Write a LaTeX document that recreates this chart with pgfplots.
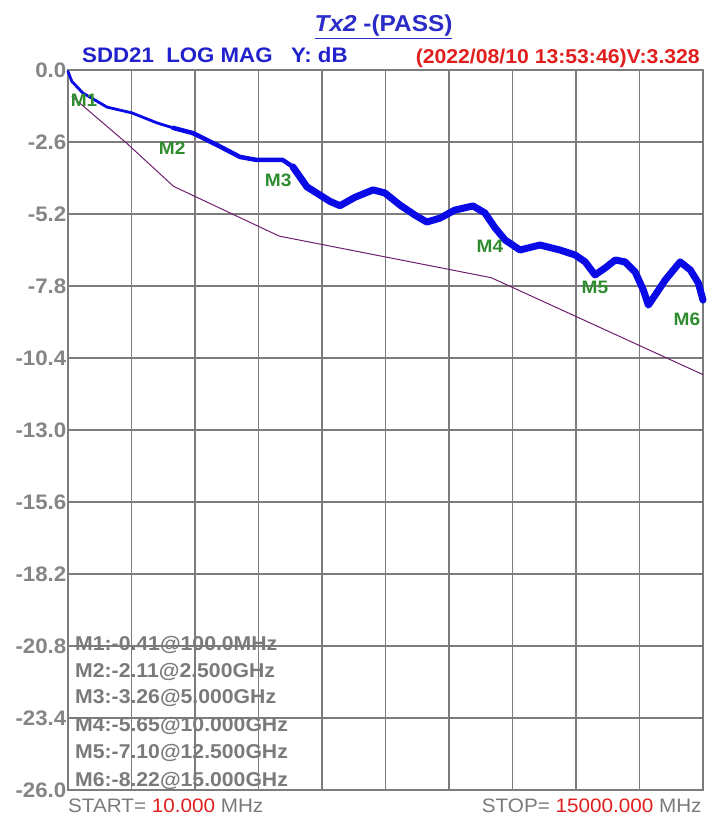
\documentclass[border=0pt]{standalone}
\usepackage{pgfplots}
\pgfplotsset{compat=1.18}
\usepackage{fontspec}
\setmainfont[FakeStretch=1.06]{Liberation Sans}
\definecolor{gridgray}{HTML}{7C7C7C}
\definecolor{tickgray}{HTML}{858585}
\definecolor{listgray}{HTML}{7A7A7A}
\definecolor{titleblue}{HTML}{2B2BC8}
\definecolor{hdrblue}{HTML}{2222CC}
\definecolor{hdrred}{HTML}{E01E1E}
\definecolor{traceblue}{HTML}{0A0AE6}
\definecolor{limpurple}{HTML}{6E1E6E}
\definecolor{mgreen}{HTML}{2E8B2E}
\begin{document}
\begin{tikzpicture}
\useasboundingbox (-68pt,-26pt) rectangle (650pt,790pt);
\begin{axis}[
  scale only axis, width=635pt, height=720pt,
  at={(0pt,0pt)}, anchor=south west,
  xmin=0.01, xmax=15, ymin=-26, ymax=0,
  xtick={0.01,1.509,3.008,4.507,6.006,7.505,9.004,10.503,12.002,13.501,15},
  xticklabels={},
  ytick={0,-2.6,-5.2,-7.8,-10.4,-13,-15.6,-18.2,-20.8,-23.4,-26},
  yticklabels={0.0,-2.6,-5.2,-7.8,-10.4,-13.0,-15.6,-18.2,-20.8,-23.4,-26.0},
  grid=major,
  major grid style={gridgray, line width=1.6pt},
  axis line style={gridgray, line width=1.6pt},
  major tick length=0pt,
  yticklabel style={font=\fontsize{21}{21}\selectfont\bfseries, text=tickgray, inner sep=0pt, xshift=-1.5pt},
  clip=false,
]
% limit line
\addplot[limpurple, line width=1pt] coordinates {
 (0.1,-0.95) (1.4,-2.65) (2.5,-4.2) (4.47,-5.62) (5.0,-6.0) (10.0,-7.5) (15.0,-11.0)
};
% measured trace, segment 1
\addplot[traceblue, line width=2.8pt, line join=round, line cap=round] coordinates {
 (0.01,-0.05) (0.1,-0.41) (0.36,-0.83) (0.93,-1.34) (1.52,-1.55) (2.11,-1.91) (2.49,-2.09)
};
% segment 2
\addplot[traceblue, line width=4.5pt, line join=round, line cap=round] coordinates {
 (2.49,-2.09) (2.96,-2.28) (3.53,-2.71) (4.07,-3.14) (4.47,-3.25) (5.08,-3.25) (5.32,-3.5)
};
% segment 3
\addplot[traceblue, line width=7pt, line join=round, line cap=round] coordinates {
 (5.32,-3.5) (5.65,-4.22) (6.2,-4.75) (6.43,-4.9) (6.78,-4.6) (7.21,-4.33) (7.49,-4.44)
 (7.85,-4.88) (8.2,-5.24) (8.48,-5.49) (8.79,-5.35) (9.14,-5.06) (9.57,-4.91) (9.85,-5.16)
 (10.09,-5.7) (10.33,-6.14) (10.68,-6.5) (11.15,-6.32) (11.62,-6.5) (11.98,-6.68)
 (12.22,-6.93) (12.45,-7.4) (12.69,-7.15) (12.93,-6.86) (13.16,-6.93) (13.4,-7.3)
 (13.59,-7.94) (13.71,-8.49) (13.87,-8.13) (14.11,-7.58) (14.46,-6.93) (14.7,-7.22)
 (14.89,-7.69) (15.0,-8.31)
};
% marker labels
\begin{scope}[every node/.style={font=\fontsize{18}{18}\selectfont\bfseries, text=mgreen, inner sep=0pt}]
\node at (axis cs:0.39,-1.08) {M1};
\node at (axis cs:2.47,-2.82) {M2};
\node at (axis cs:4.97,-3.97) {M3};
\node at (axis cs:9.97,-6.36) {M4};
\node at (axis cs:12.45,-7.84) {M5};
\node at (axis cs:14.62,-8.99) {M6};
\end{scope}
% marker list
\begin{scope}[every node/.style={font=\fontsize{20}{20}\selectfont\bfseries, text=listgray, inner sep=0pt, anchor=base west}]
\node at (rel axis cs:0.011,0.1944) {M1:-0.41@100.0MHz};
\node at (rel axis cs:0.011,0.1569) {M2:-2.11@2.500GHz};
\node at (rel axis cs:0.011,0.1208) {M3:-3.26@5.000GHz};
\node at (rel axis cs:0.011,0.0806) {M4:-5.65@10.000GHz};
\node at (rel axis cs:0.011,0.0444) {M5:-7.10@12.500GHz};
\node at (rel axis cs:0.011,0.0042) {M6:-8.22@15.000GHz};
\end{scope}
% header texts
\node[anchor=base, inner sep=0pt, font=\fontsize{23}{23}\selectfont\bfseries, text=titleblue] at (rel axis cs:0.4969,1.0528) {\underline{\textit{Tx2} -(PASS)}};
\node[anchor=base west, inner sep=0pt, font=\fontsize{21}{21}\selectfont\bfseries, text=hdrblue] at (rel axis cs:0.022,1.0111) {SDD21\ \ LOG MAG\ \ \ Y: dB};
\node[anchor=base east, inner sep=0pt, font=\fontsize{20}{20}\selectfont\bfseries, text=hdrred] at (rel axis cs:0.9953,1.0097) {(2022/08/10 13:53:46)V:3.328};
% footer texts
\node[anchor=base west, inner sep=0pt, font=\fontsize{19.5}{19.5}\selectfont, text=listgray] at (rel axis cs:0.0,-0.0306) {START= \textcolor{hdrred}{10.000} MHz};
\node[anchor=base east, inner sep=0pt, font=\fontsize{19.5}{19.5}\selectfont, text=listgray] at (rel axis cs:0.998,-0.0306) {STOP= \textcolor{hdrred}{15000.000} MHz};
\end{axis}
\end{tikzpicture}
\end{document}
